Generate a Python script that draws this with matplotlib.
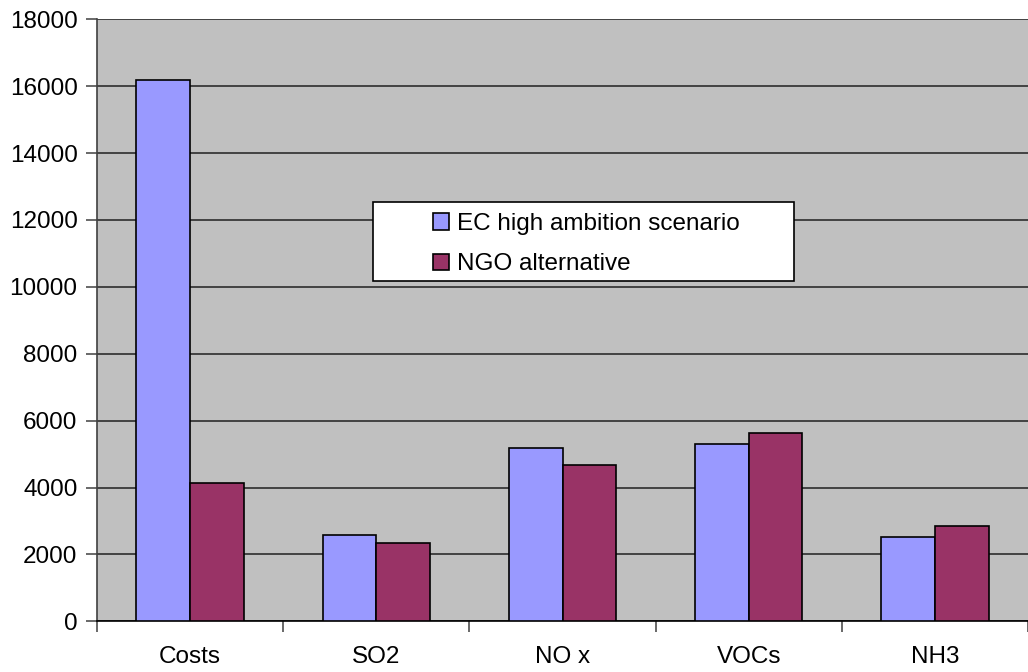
import matplotlib
matplotlib.use("Agg")
import matplotlib.pyplot as plt
from matplotlib.patches import Rectangle
import numpy as np

categories = ["Costs", "SO2", "NO x", "VOCs", "NH3"]
ec_values = [16180, 2580, 5170, 5300, 2530]
ngo_values = [4150, 2350, 4680, 5640, 2850]
series_names = ["EC high ambition scenario", "NGO alternative"]
yticks = list(range(0, 18001, 2000))

plt.rcParams['font.family'] = ['Liberation Sans', 'DejaVu Sans']
FS = 17.5

fig = plt.figure(figsize=(10.28, 6.72), dpi=100)
ax = fig.add_axes([97/1028, 1 - 621.3/672, 931/1028, 602/672])
ax.set_facecolor('#C0C0C0')

x = np.arange(len(categories))
w = 0.288
b1 = ax.bar(x - w/2, ec_values, w, color='#9999FF', edgecolor='black', linewidth=1.2, zorder=3)
b2 = ax.bar(x + w/2, ngo_values, w, color='#993366', edgecolor='black', linewidth=1.2, zorder=3)

ax.set_xlim(-0.5, len(categories) - 0.5)
ax.set_ylim(0, 18000)
ax.set_yticks(yticks)
ax.set_yticklabels([str(t) for t in yticks], fontsize=FS)
ax.yaxis.grid(True, color='#202020', linewidth=1.1, zorder=1)
ax.set_axisbelow(True)
ax.tick_params(axis='y', direction='out', length=8, width=1.1, color='#404040', pad=6)

ax.set_xticks(x)
ax.set_xticklabels(categories, fontsize=FS)
ax.set_xticks(np.arange(-0.5, len(categories) + 0.5, 1), minor=True)
ax.tick_params(axis='x', which='major', length=0, pad=18)
ax.tick_params(axis='x', which='minor', direction='out', length=8, width=1.1, color='#404040')

for s in ['top', 'right']:
    ax.spines[s].set_visible(False)
ax.spines['left'].set_color('#404040')
ax.spines['left'].set_linewidth(1.2)
ax.spines['bottom'].set_color('black')
ax.spines['bottom'].set_linewidth(1.2)

# legend box
lx0, lx1 = (373.3 - 97) / 931, (794.3 - 97) / 931
ly0, ly1 = (621.3 - 281) / 602, (621.3 - 201.7) / 602
ax.add_patch(Rectangle((lx0, ly0), lx1 - lx0, ly1 - ly0, transform=ax.transAxes,
                       facecolor='white', edgecolor='black', linewidth=1.2, zorder=5))
leg = ax.legend([b1, b2], series_names, loc='upper left',
                bbox_to_anchor=((433 - 97) / 931, (621.3 - 213) / 602),
                frameon=False, fontsize=FS, handlelength=0.66, handleheight=0.66,
                handletextpad=0.33, labelspacing=0.75, borderpad=0.0, borderaxespad=0.0)
leg.set_zorder(6)

fig.savefig('out.png', dpi=100)
